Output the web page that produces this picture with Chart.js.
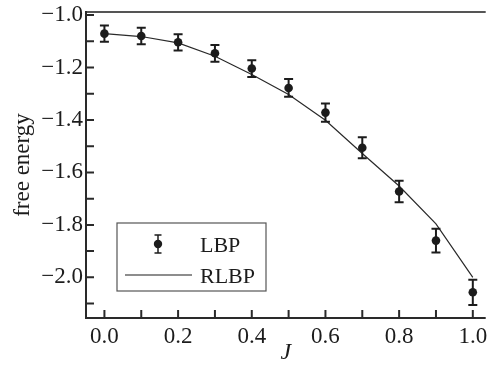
<!DOCTYPE html>
<html>
<head>
<meta charset="utf-8">
<script src="https://cdn.jsdelivr.net/npm/chart.js@4.4.1/dist/chart.umd.min.js"></script>
<style>
  html, body { margin: 0; padding: 0; background: #fff; }
  #wrap { width: 490px; height: 366px; }
</style>
</head>
<body>
<div id="wrap"><canvas id="myChart" width="490" height="366"></canvas></div>
<script>
// values
var jValues = [0.0, 0.1, 0.2, 0.3, 0.4, 0.5, 0.6, 0.7, 0.8, 0.9, 1.0];
var lbpValues = [-1.071, -1.080, -1.104, -1.146, -1.204, -1.278, -1.372, -1.506, -1.673, -1.860, -2.057];
var lbpErrors = [0.031, 0.031, 0.031, 0.032, 0.032, 0.034, 0.035, 0.040, 0.041, 0.045, 0.048];
var rlbpValues = [-1.071, -1.082, -1.106, -1.157, -1.227, -1.303, -1.401, -1.528, -1.652, -1.796, -2.000];

var xTickLabels = [0.0, 0.2, 0.4, 0.6, 0.8, 1.0];
var yTickLabels = [-2.0, -1.8, -1.6, -1.4, -1.2, -1.0];
var xMinorTicks = [0.0, 0.1, 0.2, 0.3, 0.4, 0.5, 0.6, 0.7, 0.8, 0.9, 1.0];
var yMinorTicks = [-2.1, -2.0, -1.9, -1.8, -1.7, -1.6, -1.5, -1.4, -1.3, -1.2, -1.1, -1.0];

var serif = "'Liberation Serif', 'DejaVu Serif', serif";
var ink = '#1c1c1c';

function fmt(v) {
    return v.toFixed(1).replace('-', '\u2212');
}

// error bars, inward ticks, frame and the boxed legend
var extras = {
    id: 'extras',
    afterDatasetsDraw: function (chart) {
        var ctx = chart.ctx;
        var x = chart.scales.x, y = chart.scales.y;
        ctx.save();
        ctx.strokeStyle = ink;
        ctx.lineWidth = 2;
        for (var i = 0; i < jValues.length; i++) {
            var px = x.getPixelForValue(jValues[i]);
            var top = y.getPixelForValue(lbpValues[i] + lbpErrors[i]);
            var bot = y.getPixelForValue(lbpValues[i] - lbpErrors[i]);
            ctx.beginPath();
            ctx.moveTo(px, top); ctx.lineTo(px, bot);
            ctx.moveTo(px - 4.5, top); ctx.lineTo(px + 4.5, top);
            ctx.moveTo(px - 4.5, bot); ctx.lineTo(px + 4.5, bot);
            ctx.stroke();
        }
        ctx.restore();
    },
    afterDraw: function (chart) {
        var ctx = chart.ctx;
        var a = chart.chartArea;
        var x = chart.scales.x, y = chart.scales.y;
        ctx.save();
        // frame
        ctx.strokeStyle = '#555';
        ctx.lineWidth = 2;
        ctx.beginPath();
        ctx.moveTo(a.left, a.top); ctx.lineTo(a.right, a.top);
        ctx.stroke();
        ctx.strokeStyle = '#2a2a2a';
        ctx.beginPath();
        ctx.moveTo(a.left, a.top - 1); ctx.lineTo(a.left, a.bottom);
        ctx.lineTo(a.right, a.bottom);
        ctx.stroke();
        // inward ticks
        ctx.beginPath();
        xMinorTicks.forEach(function (v) {
            var px = x.getPixelForValue(v);
            ctx.moveTo(px, a.bottom); ctx.lineTo(px, a.bottom - 8);
        });
        yMinorTicks.forEach(function (v) {
            var py = y.getPixelForValue(v);
            ctx.moveTo(a.left, py); ctx.lineTo(a.left + 8, py);
        });
        ctx.stroke();

        // legend box
        ctx.strokeStyle = '#555';
        ctx.lineWidth = 1.2;
        ctx.strokeRect(117, 223, 149, 68);
        ctx.fillStyle = ink;
        ctx.strokeStyle = ink;
        ctx.lineWidth = 1.5;
        ctx.beginPath();
        ctx.moveTo(158, 235); ctx.lineTo(158, 253);
        ctx.moveTo(154.5, 235); ctx.lineTo(161.5, 235);
        ctx.moveTo(154.5, 253); ctx.lineTo(161.5, 253);
        ctx.stroke();
        ctx.beginPath();
        ctx.arc(158, 244, 4.2, 0, Math.PI * 2);
        ctx.fill();
        ctx.lineWidth = 1.2;
        ctx.beginPath();
        ctx.moveTo(125, 275); ctx.lineTo(192, 275);
        ctx.stroke();
        ctx.font = '22px ' + serif;
        ctx.textAlign = 'left';
        ctx.textBaseline = 'alphabetic';
        ctx.fillText(chart.data.datasets[0].label, 200, 252);
        ctx.fillText(chart.data.datasets[1].label, 200, 283);
        ctx.restore();
    }
};

var ctx = document.getElementById('myChart').getContext('2d');
var myChart = new Chart(ctx, {
    type: 'scatter',
    data: {
        datasets: [{
            label: 'LBP',
            data: jValues.map(function (j, i) { return { x: j, y: lbpValues[i] }; }),
            showLine: false,
            pointRadius: 4.3,
            pointBackgroundColor: ink,
            pointBorderColor: ink,
            pointBorderWidth: 0
        }, {
            label: 'RLBP',
            data: jValues.map(function (j, i) { return { x: j, y: rlbpValues[i] }; }),
            showLine: true,
            pointRadius: 0,
            borderColor: '#2a2a2a',
            borderWidth: 1.2,
            tension: 0
        }]
    },
    options: {
        responsive: false,
        animation: false,
        layout: { padding: { top: 12, right: 0, left: 0, bottom: 0 } },
        plugins: {
            legend: { display: false },
            tooltip: { enabled: false }
        },
        scales: {
            x: {
                type: 'linear',
                min: -0.05,
                max: 1.035,
                grid: { display: false, drawTicks: false },
                border: { display: false },
                afterBuildTicks: function (s) {
                    s.ticks = xTickLabels.map(function (v) { return { value: v }; });
                },
                afterFit: function (s) {
                    s.height = 48;
                    s.paddingLeft = 0; s.paddingRight = 0;
                },
                ticks: {
                    autoSkip: false,
                    maxRotation: 0,
                    padding: 7,
                    color: ink,
                    font: { family: serif, size: 23, lineHeight: 1 },
                    callback: function (v) { return fmt(v); }
                },
                title: {
                    display: true,
                    text: 'J',
                    color: ink,
                    padding: 0,
                    font: { family: serif, size: 24, style: 'italic', lineHeight: 1.1 }
                }
            },
            y: {
                type: 'linear',
                min: -2.155,
                max: -0.9885,
                grid: { display: false, drawTicks: false },
                border: { display: false },
                afterBuildTicks: function (s) {
                    s.ticks = yTickLabels.map(function (v) { return { value: v }; });
                },
                afterFit: function (s) {
                    s.width = 86;
                    s.paddingTop = 0; s.paddingBottom = 0;
                },
                ticks: {
                    padding: 3,
                    color: ink,
                    font: { family: serif, size: 23, lineHeight: 1 },
                    callback: function (v) { return fmt(v); }
                },
                title: {
                    display: true,
                    text: 'free energy',
                    color: ink,
                    padding: { top: 9, bottom: 0 },
                    font: { family: serif, size: 23, lineHeight: 1.2 }
                }
            }
        }
    },
    plugins: [extras]
});
</script>
</body>
</html>
